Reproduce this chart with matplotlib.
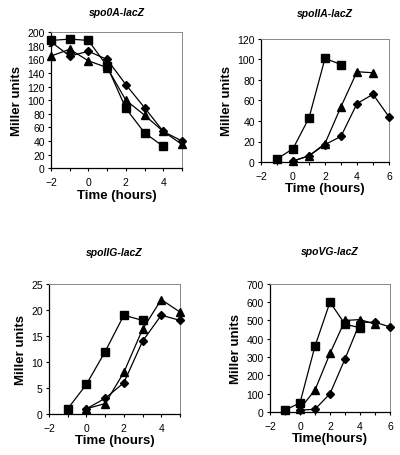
import matplotlib
matplotlib.use("Agg")
import matplotlib.pyplot as plt

plt.rcParams['font.family'] = ['Liberation Sans', 'DejaVu Sans']

# spo0A-lacZ
a_sq_x = [-2, -1, 0, 1, 2, 3, 4]
a_sq_y = [188, 190, 188, 150, 88, 52, 32]
a_di_x = [-2, -1, 0, 1, 2, 3, 4, 5]
a_di_y = [186, 165, 172, 160, 123, 89, 54, 40]
a_tr_x = [-2, -1, 0, 1, 2, 3, 4, 5]
a_tr_y = [165, 175, 158, 148, 100, 78, 54, 35]

# spoIIA-lacZ
b_sq_x = [-1, 0, 1, 2, 3]
b_sq_y = [3, 13, 43, 101, 95]
b_tr_x = [0, 1, 2, 3, 4, 5]
b_tr_y = [1, 6, 18, 54, 88, 87]
b_di_x = [0, 1, 2, 3, 4, 5, 6]
b_di_y = [1, 6, 17, 25, 57, 66, 44]

# spoIIG-lacZ
c_sq_x = [-1, 0, 1, 2, 3]
c_sq_y = [1, 5.7, 12, 19, 18]
c_tr_x = [0, 1, 2, 3, 4, 5]
c_tr_y = [1, 2, 8, 16.3, 22, 19.6]
c_di_x = [0, 1, 2, 3, 4, 5]
c_di_y = [1, 3, 6, 14, 19, 18]

# spoVG-lacZ
d_sq_x = [-1, 0, 1, 2, 3, 4]
d_sq_y = [10, 50, 360, 600, 480, 460]
d_tr_x = [0, 1, 2, 3, 4, 5]
d_tr_y = [18, 120, 320, 500, 505, 480]
d_di_x = [0, 1, 2, 3, 4, 5, 6]
d_di_y = [10, 15, 100, 290, 490, 490, 465]

panels = [
    dict(title='spo0A-lacZ', pos=[0.1275, 0.629, 0.3275, 0.298], xlim=(-2, 5), xticks=[-2, 0, 2, 4],
         ylim=(0, 200), yticks=list(range(0, 201, 20)), xlabel='Time (hours)', titley=13,
         series=[(a_sq_x, a_sq_y, 's'), (a_di_x, a_di_y, 'D'), (a_tr_x, a_tr_y, '^')]),
    dict(title='spoIIA-lacZ', pos=[0.6525, 0.6425, 0.32, 0.27], xlim=(-2, 6), xticks=[-2, 0, 2, 4, 6],
         ylim=(0, 120), yticks=list(range(0, 121, 20)), xlabel='Time (hours)', titley=14,
         series=[(b_sq_x, b_sq_y, 's'), (b_tr_x, b_tr_y, '^'), (b_di_x, b_di_y, 'D')]),
    dict(title='spoIIG-lacZ', pos=[0.1225, 0.09, 0.3275, 0.285], xlim=(-2, 5), xticks=[-2, 0, 2, 4],
         ylim=(0, 25), yticks=list(range(0, 26, 5)), xlabel='Time (hours)', titley=253,
         series=[(c_sq_x, c_sq_y, 's'), (c_tr_x, c_tr_y, '^'), (c_di_x, c_di_y, 'D')]),
    dict(title='spoVG-lacZ', pos=[0.675, 0.0943, 0.30, 0.281], xlim=(-2, 6), xticks=[-2, 0, 2, 4, 6],
         ylim=(0, 700), yticks=list(range(0, 701, 100)), xlabel='Time(hours)', titley=252,
         series=[(d_sq_x, d_sq_y, 's'), (d_tr_x, d_tr_y, '^'), (d_di_x, d_di_y, 'D')]),
]

fig = plt.figure(figsize=(4, 4.56), dpi=100)
for p in panels:
    ax = fig.add_axes(p['pos'])
    for x, y, m in p['series']:
        ms = {'s': 5.5, 'D': 4.5, '^': 6}[m]
        ax.plot(x, y, color='black', lw=0.9, marker=m, ms=ms, mfc='black', mec='black', clip_on=False, zorder=3)
    ax.set_xlim(*p['xlim'])
    ax.set_ylim(*p['ylim'])
    ax.set_xticks(p['xticks'])
    ax.set_xticks(range(int(p['xlim'][0]), int(p['xlim'][1]) + 1), minor=True)
    ax.set_yticks(p['yticks'])
    ax.tick_params(labelsize=7.5, length=2.5, width=0.8, direction='out', pad=2)
    ax.tick_params(axis='x', which='both', pad=4, length=2.5, width=0.8)
    for s in ['top', 'right']:
        ax.spines[s].set_color('#888888')
        ax.spines[s].set_linewidth(0.7)
    for s in ['left', 'bottom']:
        ax.spines[s].set_linewidth(0.9)
    ax.set_xlabel(p['xlabel'], fontsize=9.5, fontweight='bold', labelpad=1)
    ax.set_ylabel('Miller units', fontsize=9.5, fontweight='bold', labelpad=3)
    l, b, w, h = p['pos']
    fig.text(l + w / 2, 1 - p['titley'] / 456, p['title'], fontsize=7.5, fontweight='bold',
             fontstyle='italic', ha='center', va='center')

fig.savefig('out.png', dpi=100)
